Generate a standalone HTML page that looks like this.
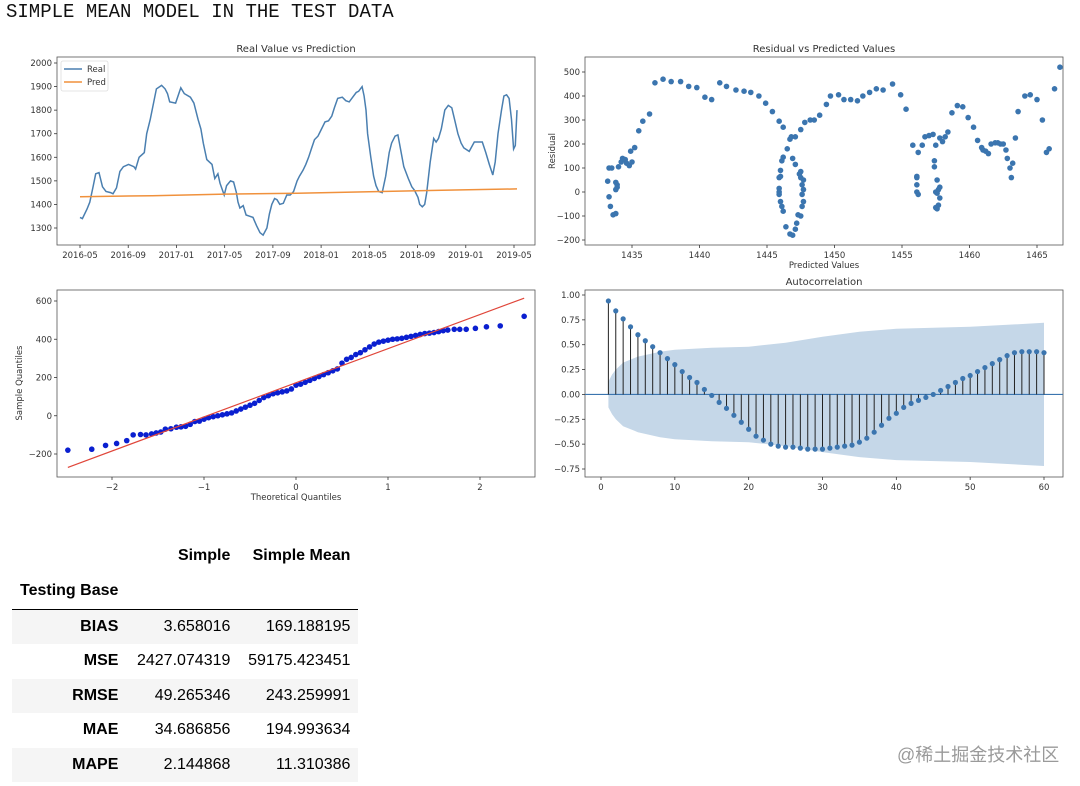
<!DOCTYPE html>
<html><head><meta charset="utf-8">
<style>
body{margin:0;width:1080px;height:786px;background:#fff;position:relative;overflow:hidden;font-family:"Liberation Sans",sans-serif;}
#title{position:absolute;left:6px;top:1px;font-family:"Liberation Mono",monospace;font-size:19px;color:#111;}
svg{position:absolute;left:0;top:0;}
text{font-family:"DejaVu Sans","Liberation Sans",sans-serif;fill:#333;}
#tbl{position:absolute;left:12px;top:538px;border-collapse:collapse;font-size:16px;color:#000;}
#tbl td,#tbl th{text-align:right;padding:0 8px 0 8px;height:34.5px;white-space:nowrap;}
#tbl th{font-weight:bold;}
#tbl tr.sh td,#tbl tr.sh th{background:#f5f5f5;}
#wm{position:absolute;left:897px;top:741px;font-size:18px;color:#9a9a9a;font-family:"Liberation Sans","Noto Sans CJK SC",sans-serif;}
</style></head>
<body>
<div id="title">SIMPLE MEAN MODEL IN THE TEST DATA</div>
<svg id="svg" width="1080" height="520"></svg>
<table id="tbl">
<tr style="height:36px"><th style="width:92px"></th><th style="width:96px">Simple</th><th style="width:104px">Simple Mean</th></tr>
<tr style="height:34px;border-bottom:1px solid #000"><th style="text-align:left;padding-left:8px">Testing Base</th><td></td><td></td></tr>
<tr class="sh"><th>BIAS</th><td>3.658016</td><td>169.188195</td></tr>
<tr><th>MSE</th><td>2427.074319</td><td>59175.423451</td></tr>
<tr class="sh"><th>RMSE</th><td>49.265346</td><td>243.259991</td></tr>
<tr><th>MAE</th><td>34.686856</td><td>194.993634</td></tr>
<tr class="sh"><th>MAPE</th><td>2.144868</td><td>11.310386</td></tr>
</table>
<div id="wm">@稀土掘金技术社区</div>
<script>
// Chart 1: months since 2016-05, real values
const realMonths=[0,.2,.58,.81,1.1,1.3,1.58,1.87,2.16,2.54,2.74,3.03,3.31,3.6,4.03,4.47,4.61,4.9,5.33,5.53,5.82,6.34,6.77,7.06,7.26,7.44,7.93,8.36,8.65,9.16,9.45,9.8,10.03,10.23,10.52,10.95,11.18,11.44,11.61,11.96,12.16,12.48,12.74,12.97,13.11,13.26,13.54,13.78,14.06,14.35,14.64,14.93,15.19,15.5,15.71,15.91,16.14,16.34,16.57,16.86,17.15,17.44,17.72,18.01,18.21,18.5,18.73,18.96,19.22,19.45,19.74,20.03,20.32,20.61,20.89,21.1,21.38,21.76,22.05,22.33,22.62,22.91,23.11,23.4,23.57,23.72,23.86,24.12,24.35,24.55,24.78,25.07,25.36,25.65,25.85,26.14,26.37,26.57,26.86,27.23,27.52,27.75,28.04,28.18,28.39,28.59,28.76,29.05,29.34,29.54,29.74,29.97,30.26,30.55,30.84,31.07,31.35,31.61,31.84,32.28,32.71,33.08,33.37,33.66,33.95,34.24,34.44,34.67,34.96,35.16,35.39,35.59,35.79,35.97,36.11,36.25];
const realValues=[1345,1340,1380,1410,1480,1530,1535,1475,1455,1450,1445,1470,1540,1560,1570,1560,1550,1600,1620,1700,1760,1890,1905,1890,1870,1835,1830,1895,1870,1855,1830,1760,1720,1660,1590,1570,1510,1530,1490,1440,1480,1500,1495,1450,1410,1385,1395,1355,1350,1345,1310,1280,1270,1300,1360,1400,1425,1420,1400,1405,1440,1440,1455,1500,1520,1545,1570,1600,1640,1675,1690,1720,1750,1755,1775,1810,1850,1855,1840,1835,1855,1875,1880,1900,1860,1800,1700,1600,1520,1480,1455,1450,1520,1620,1660,1690,1695,1640,1560,1510,1475,1460,1430,1400,1390,1400,1450,1580,1680,1665,1680,1720,1800,1820,1810,1760,1700,1660,1640,1625,1665,1665,1665,1620,1570,1525,1580,1700,1800,1860,1865,1850,1760,1635,1650,1800,1920,1985];
const predMonths=[0,6,12,18,24,30,36.25];
const predValues=[1433,1437,1444,1447,1454,1460,1466];
const xTickLabels1=["2016-05","2016-09","2017-01","2017-05","2017-09","2018-01","2018-05","2018-09","2019-01","2019-05"];
const yTicks1=[1300,1400,1500,1600,1700,1800,1900,2000];
// Chart 2: residual vs predicted
const resPred=[1433.2,1433.3,1433.4,1433.6,1433.8,1433.3,1433.5,1433.8,1433.9,1433.8,1433.9,1434.0,1434.2,1434.3,1434.5,1434.6,1434.8,1435.0,1434.9,1435.2,1435.5,1435.8,1436.3,1436.7,1437.3,1437.9,1438.6,1439.2,1439.8,1440.4,1440.9,1441.5,1442.0,1442.7,1443.3,1443.8,1444.4,1444.9,1445.4,1445.9,1446.2,1446.5,1446.7,1446.8,1447.1,1447.5,1447.8,1448.2,1448.5,1448.9,1449.4,1449.7,1450.3,1450.7,1451.2,1451.7,1452.1,1452.6,1453.1,1453.6,1454.3,1454.9,1455.3,1455.8,1456.2,1456.5,1456.7,1457.0,1457.3,1457.5,1457.8,1458.0,1458.2,1458.4,1458.7,1459.1,1459.5,1459.9,1460.3,1460.6,1460.9,1461.0,1461.2,1461.4,1461.6,1461.9,1462.1,1462.3,1462.5,1462.7,1462.8,1463.0,1463.2,1463.1,1463.4,1463.6,1464.1,1464.5,1465.0,1465.4,1465.7,1465.9,1466.3,1466.7,1446.2,1446.1,1446.0,1445.9,1445.9,1445.9,1445.9,1446.0,1446.1,1446.2,1446.4,1446.7,1446.9,1447.1,1447.2,1447.3,1447.5,1447.6,1447.7,1447.6,1447.7,1447.6,1447.5,1447.4,1447.5,1447.7,1447.1,1446.9,1446.0,1456.1,1456.1,1456.1,1456.1,1456.2,1457.4,1457.4,1457.5,1457.6,1457.5,1457.6,1457.7,1457.8,1457.7,1457.8,1457.6];
const resVal=[45,-20,-60,-95,-90,100,100,40,30,10,20,105,125,140,135,120,110,125,170,185,255,295,325,455,470,460,460,440,435,395,385,455,440,425,420,415,400,370,335,295,270,180,220,230,230,260,290,300,300,320,365,400,405,385,385,380,400,415,430,425,450,405,345,195,165,195,230,235,240,195,225,210,230,250,330,360,355,310,270,215,185,175,170,160,200,205,205,200,200,175,140,100,120,60,225,335,400,405,385,300,165,180,430,520,145,130,90,60,15,0,-10,-40,-60,-80,-145,-175,-180,-155,-130,-95,-100,-60,-40,-10,10,30,60,75,85,50,115,140,65,65,60,30,0,-10,130,105,0,-5,-65,-70,-55,-25,10,20,50];
const xTicks2=[1435,1440,1445,1450,1455,1460,1465];
const yTicks2=[-200,-100,0,100,200,300,400,500];
// Chart 3: QQ
const qqTheo=[-2.48,-2.22,-2.07,-1.95,-1.84,-1.77,-1.69,-1.63,-1.57,-1.52,-1.47,-1.42,-1.36,-1.3,-1.25,-1.2,-1.15,-1.1,-1.05,-1.0,-0.95,-0.9,-0.85,-0.8,-0.75,-0.7,-0.65,-0.6,-0.55,-0.5,-0.45,-0.4,-0.35,-0.3,-0.25,-0.2,-0.15,-0.1,-0.05,0,0.05,0.1,0.15,0.2,0.25,0.3,0.35,0.4,0.45,0.5,0.55,0.6,0.65,0.7,0.75,0.8,0.85,0.9,0.95,1.0,1.05,1.1,1.15,1.2,1.25,1.3,1.35,1.4,1.45,1.5,1.55,1.6,1.65,1.72,1.78,1.85,1.95,2.07,2.22,2.48];
const qqSample=[-180,-175,-155,-145,-130,-100,-98,-100,-95,-90,-85,-70,-68,-60,-58,-55,-45,-30,-28,-18,-10,-5,0,5,10,15,25,35,45,55,65,80,95,105,115,120,125,130,140,160,165,175,185,195,205,215,225,235,245,275,295,305,320,330,345,360,375,385,390,395,400,402,405,410,415,420,425,430,432,435,440,445,448,452,452,452,457,465,470,520];
const qqLineX=[-2.48,2.48];
const qqLineY=[-270,615];
const xTicks3=[-2,-1,0,1,2];
const yTicks3=[-200,0,200,400,600];
// Chart 4: ACF
const acfLags=[1,2,3,4,5,6,7,8,9,10,11,12,13,14,15,16,17,18,19,20,21,22,23,24,25,26,27,28,29,30,31,32,33,34,35,36,37,38,39,40,41,42,43,44,45,46,47,48,49,50,51,52,53,54,55,56,57,58,59,60];
const acfValues=[.94,.84,.76,.68,.60,.54,.48,.42,.36,.30,.23,.17,.12,.05,-.01,-.08,-.14,-.21,-.28,-.35,-.42,-.46,-.50,-.52,-.53,-.53,-.54,-.55,-.55,-.55,-.54,-.53,-.52,-.51,-.48,-.44,-.38,-.31,-.24,-.19,-.13,-.09,-.06,-.03,0,.04,.08,.12,.16,.19,.23,.27,.31,.35,.39,.42,.43,.43,.43,.42];
const confLags=[1,1.5,2,3,5,8,10,15,20,25,30,35,40,50,60];
const confValues=[.13,.2,.25,.32,.38,.43,.45,.47,.48,.52,.58,.63,.66,.68,.72];
const xTicks4=[0,10,20,30,40,50,60];
const yTicks4=[-0.75,-0.5,-0.25,0,0.25,0.5,0.75,1.0];

const svg=document.getElementById('svg');
const NS='http://www.w3.org/2000/svg';
function mk(tag,attrs,parent){const e=document.createElementNS(NS,tag);for(const k in attrs)e.setAttribute(k,attrs[k]);(parent||svg).appendChild(e);return e;}
function lin(d0,d1,r0,r1){return v=>r0+(v-d0)*(r1-r0)/(d1-d0);}
function frame(g,b,title,name){
  const r=mk('rect',{x:b.l,y:b.t,width:b.r-b.l,height:b.b-b.t,fill:'none',stroke:'#555','stroke-width':0.8},g);
  
  
  const t=mk('text',{x:(b.l+b.r)/2,y:b.t-5,'text-anchor':'middle','font-size':10},g);t.textContent=title;
  
  
}
function xtick(g,x,y,label,name){mk('line',{x1:x,x2:x,y1:y,y2:y+3,stroke:'#333','stroke-width':0.8},g);
  const t=mk('text',{x:x,y:y+13,'text-anchor':'middle','font-size':8.5},g);t.textContent=label;
  
  }
function ytick(g,x,y,label,name){mk('line',{x1:x-3,x2:x,y1:y,y2:y,stroke:'#333','stroke-width':0.8},g);
  const t=mk('text',{x:x-5,y:y+3,'text-anchor':'end','font-size':8.5},g);t.textContent=label;
  
  }
function path(pts){return pts.map((p,i)=>(i?'L':'M')+p[0].toFixed(1)+' '+p[1].toFixed(1)).join(' ');}

// ---- Chart 1
{const b={l:57,r:535,t:57,b:245};const g=mk('g',{});


const X=lin(0,36,80,514),Y=lin(1300,2000,228,63);
frame(g,b,'Real Value vs Prediction','real-vs-pred');
xTickLabels1.forEach((l,i)=>xtick(g,X(i*4),b.b,l,'x-tick-'+l));
yTicks1.forEach(v=>ytick(g,b.l,Y(v),String(v),'y-tick-'+v));
const real=mk('path',{d:path(realMonths.map((m,i)=>[X(m),Y(realValues[i])])),fill:'none',stroke:'#4a7fb0','stroke-width':1.5},g);


const pred=mk('path',{d:path(predMonths.map((m,i)=>[X(m),Y(predValues[i])])),fill:'none',stroke:'#f0913c','stroke-width':1.5},g);


const lg=mk('g',{},g);


mk('rect',{x:61,y:61,width:47,height:30,fill:'#fff',stroke:'#ddd','stroke-width':0.8,rx:2},lg);
mk('line',{x1:64,x2:82,y1:69,y2:69,stroke:'#4a7fb0','stroke-width':1.5},lg);
mk('line',{x1:64,x2:82,y1:82,y2:82,stroke:'#f0913c','stroke-width':1.5},lg);
const t1=mk('text',{x:87,y:72,'font-size':8.5},lg);t1.textContent='Real';


const t2=mk('text',{x:87,y:85,'font-size':8.5},lg);t2.textContent='Pred';

}

// ---- Chart 2
{const b={l:585,r:1063,t:57,b:245};const g=mk('g',{});


const X=lin(1435,1465,632,1037),Y=lin(-200,500,240,72);
frame(g,b,'Residual vs Predicted Values','residual');
xTicks2.forEach(v=>xtick(g,X(v),b.b,String(v),'x-tick-'+v));
yTicks2.forEach(v=>ytick(g,b.l,Y(v),v<0?'\u2212'+(-v):String(v),'y-tick-'+v));
resPred.forEach((p,i)=>{const c=mk('circle',{cx:X(p),cy:Y(resVal[i]),r:2.8,fill:'#3b75af'},g);

});
const xl=mk('text',{x:(b.l+b.r)/2,y:268,'text-anchor':'middle','font-size':8.5},g);xl.textContent='Predicted Values';


const yl=mk('text',{x:0,y:0,'text-anchor':'middle','font-size':8.5,transform:'translate(555,151) rotate(-90)'},g);yl.textContent='Residual';

}

// ---- Chart 3 QQ
{const b={l:57,r:535,t:290,b:477};const g=mk('g',{});


const X=lin(-2,2,112,480),Y=lin(-200,600,454,301);
frame(g,b,'','qq');
xTicks3.forEach(v=>xtick(g,X(v),b.b,v<0?'\u2212'+(-v):String(v),'x-tick-'+v));
yTicks3.forEach(v=>ytick(g,b.l,Y(v),v<0?'\u2212'+(-v):String(v),'y-tick-'+v));
qqTheo.forEach((q,i)=>{const c=mk('circle',{cx:X(q),cy:Y(qqSample[i]),r:2.8,fill:'#0a1fd0'},g);

});
const ln=mk('line',{x1:X(qqLineX[0]),y1:Y(qqLineY[0]),x2:X(qqLineX[1]),y2:Y(qqLineY[1]),stroke:'#e0463a','stroke-width':1.2},g);


const xl=mk('text',{x:296,y:500,'text-anchor':'middle','font-size':8.5},g);xl.textContent='Theoretical Quantiles';


const yl=mk('text',{x:0,y:0,'text-anchor':'middle','font-size':8.5,transform:'translate(22,383) rotate(-90)'},g);yl.textContent='Sample Quantiles';

}

// ---- Chart 4 ACF
{const b={l:585,r:1063,t:290,b:477};const g=mk('g',{});


const X=lin(0,60,601,1044),Y=lin(-0.75,1,469,295);
const up=confLags.map((l,i)=>[X(l),Y(confValues[i])]);
const dn=confLags.map((l,i)=>[X(l),Y(-confValues[i])]).reverse();
const band=mk('path',{d:path(up.concat(dn))+'Z',fill:'#c5d7e8'},g);


frame(g,b,'Autocorrelation','acf');
xTicks4.forEach(v=>xtick(g,X(v),b.b,String(v),'x-tick-'+v));
yTicks4.forEach(v=>ytick(g,b.l,Y(v),(v<0?'\u2212':'')+Math.abs(v).toFixed(2),'y-tick-'+v));
const z=mk('line',{x1:b.l,x2:b.r,y1:Y(0),y2:Y(0),stroke:'#3b75af','stroke-width':1.2},g);


acfLags.forEach((l,i)=>{const s=mk('line',{x1:X(l),x2:X(l),y1:Y(0),y2:Y(acfValues[i]),stroke:'#222','stroke-width':1},g);


const c=mk('circle',{cx:X(l),cy:Y(acfValues[i]),r:2.6,fill:'#3b75af'},g);

});}
</script>
</body></html>
